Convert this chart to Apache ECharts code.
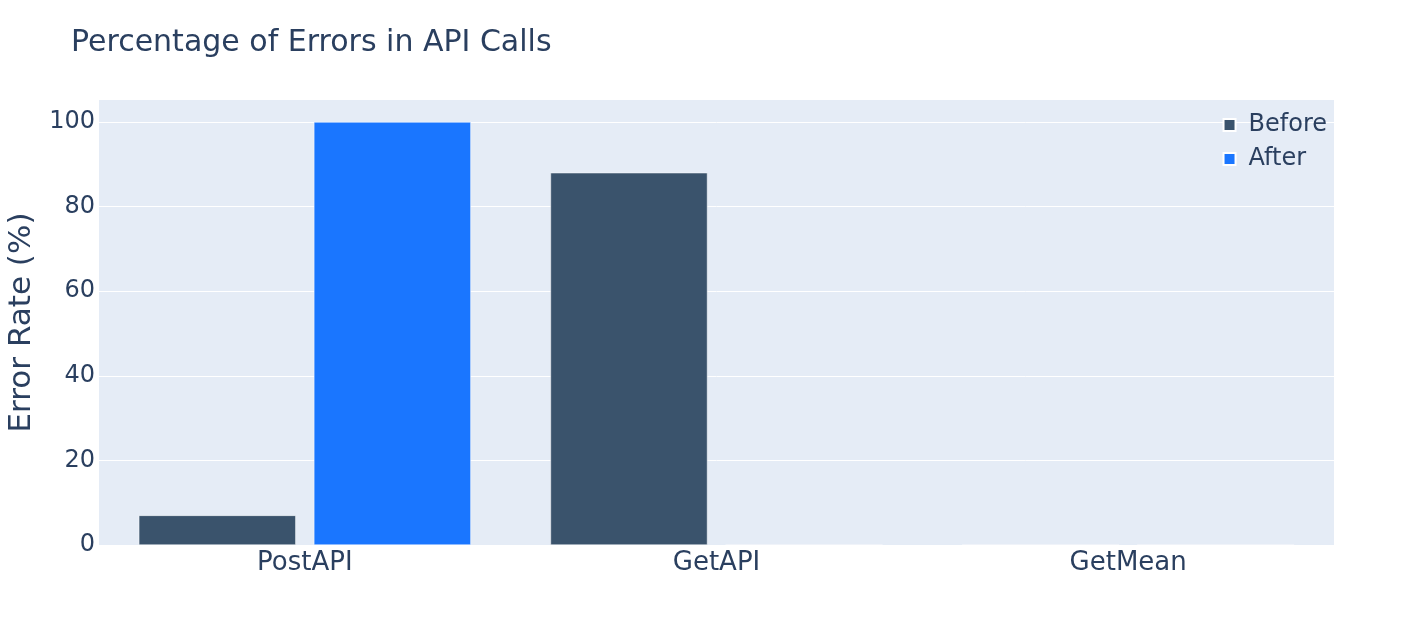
<!DOCTYPE html>
<html>
<head>
<meta charset="utf-8">
<script src="https://cdn.jsdelivr.net/npm/echarts@6/dist/echarts.min.js"></script>
<style>
html,body{margin:0;padding:0;background:#fff;}
#main{width:1414px;height:625px;}
</style>
</head>
<body>
<div id="main"></div>
<script>
var categories = ['PostAPI', 'GetAPI', 'GetMean'];
var beforeVals = [7, 88, 0];
var afterVals = [100, 0, 0];
var yTicks = [0, 20, 40, 60, 80, 100];

var chart = echarts.init(document.getElementById('main'));
var txt = '#2a3f5f';
var font = 'DejaVu Sans';

var option = {
	animation: false,
	title: {
		text: 'Percentage of Errors in API Calls',
		left: 66,
		top: 23,
		textStyle: {color: txt, fontFamily: font, fontSize: 30, fontWeight: 'normal'}
	},
	legend: {
		orient: 'vertical',
		right: 82,
		top: 108,
		itemWidth: 12,
		itemHeight: 12,
		itemGap: 10,
		icon: 'rect',
		textStyle: {color: txt, fontFamily: font, fontSize: 24, padding: [0, 0, 0, 8]},
		data: ['Before', 'After']
	},
	grid: {
		left: 99, right: 80, top: 100, bottom: 80,
		outerBoundsMode: 'none',
		containLabel: false,
		show: true,
		backgroundColor: '#e5ecf6',
		borderWidth: 0
	},
	xAxis: {
		type: 'category',
		data: categories,
		axisLine: {show: false},
		axisTick: {show: false},
		axisLabel: {color: txt, fontFamily: font, fontSize: 26, margin: 5}
	},
	yAxis: {
		type: 'value',
		min: 0,
		max: 105.2,
		interval: 20,
		name: 'Error Rate (%)',
		nameLocation: 'middle',
		nameGap: 62,
		nameTextStyle: {color: txt, fontFamily: font, fontSize: 31},
		axisLine: {show: false},
		axisTick: {show: false},
		axisLabel: {
			color: txt, fontFamily: font, fontSize: 24, margin: 4,
			padding: [3, 0, 0, 0],
			showMaxLabel: false,
			formatter: function (v) { return yTicks.indexOf(v) >= 0 ? v : ''; }
		},
		splitLine: {lineStyle: {color: '#ffffff', width: 1}, showMaxLine: false}
	},
	series: [
		{
			name: 'Before',
			type: 'bar',
			data: beforeVals,
			barWidth: 157,
			barGap: '11.5%',
			itemStyle: {color: '#3a536c', borderColor: '#ffffff', borderWidth: 0.5}
		},
		{
			name: 'After',
			type: 'bar',
			data: afterVals,
			barWidth: 157,
			itemStyle: {color: '#1a76ff', borderColor: '#ffffff', borderWidth: 0.5}
		}
	]
};
chart.setOption(option);
</script>
</body>
</html>
